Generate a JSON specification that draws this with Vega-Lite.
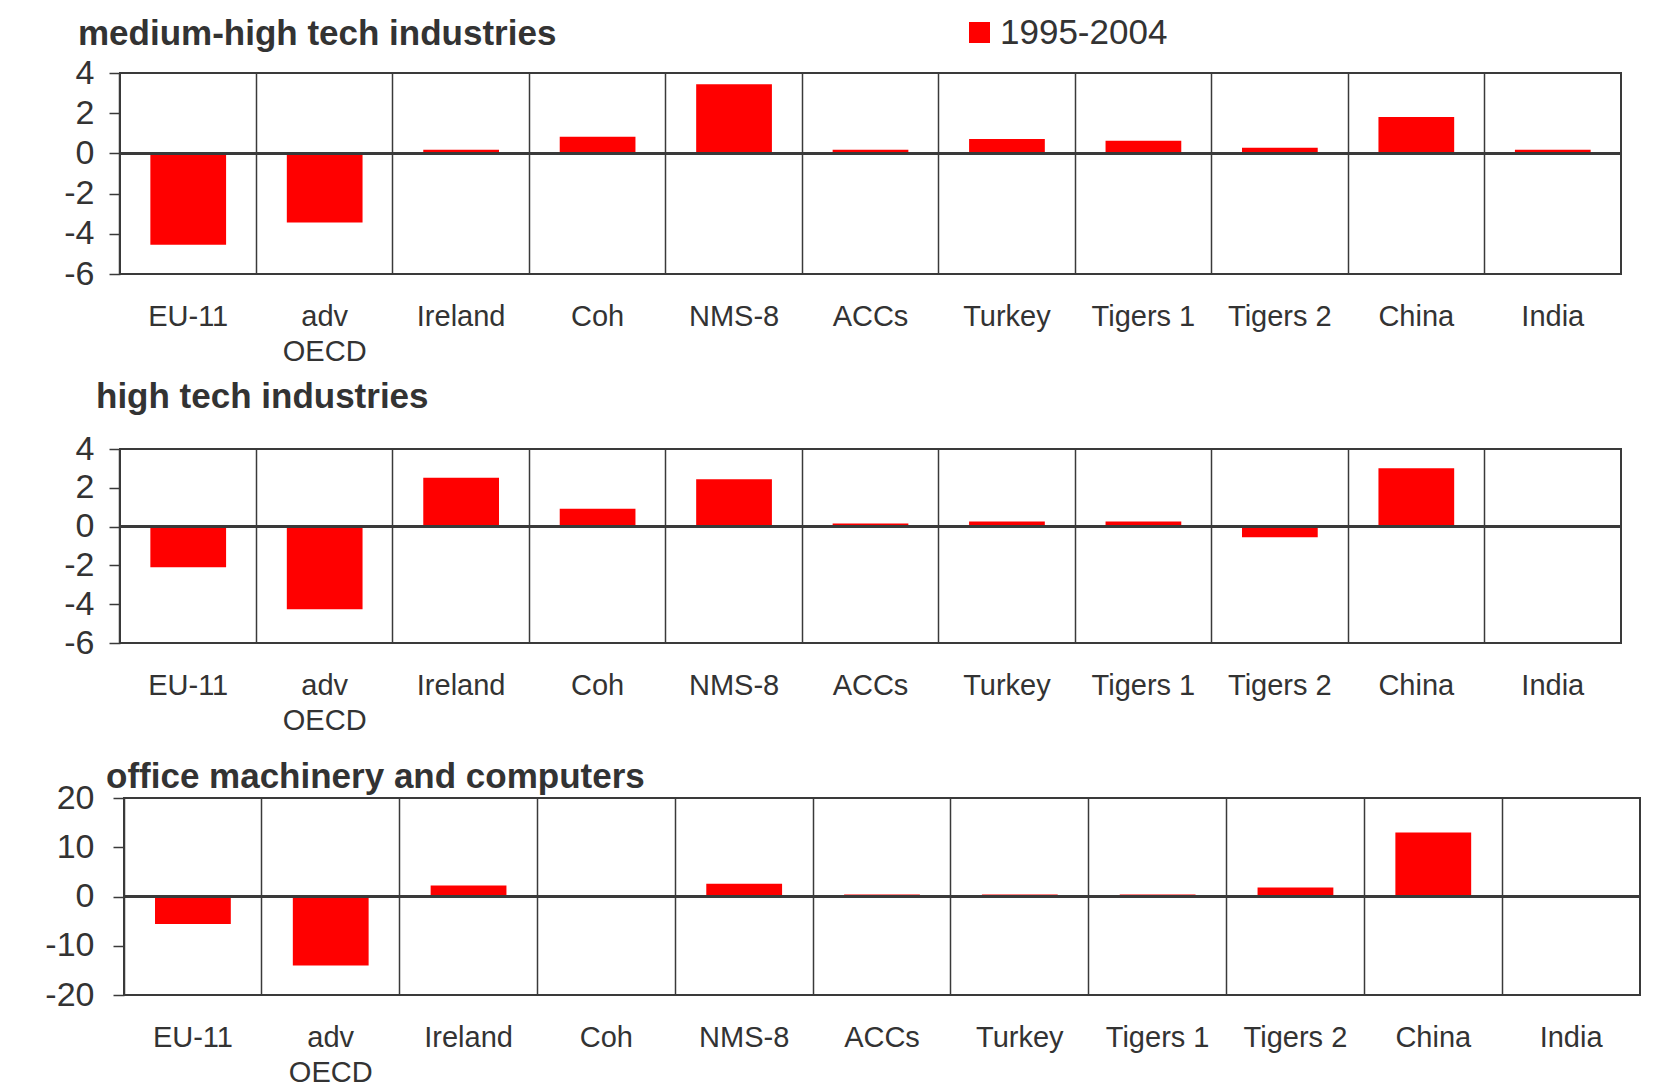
{
  "$schema": "https://vega.github.io/schema/vega-lite/v6.json",
  "padding": {"left": 43, "top": 15, "right": 10, "bottom": 5},
  "background": "white",
  "config": {
    "font": "Liberation Sans",
    "view": {"stroke": "#3a3a3a", "strokeWidth": 2},
    "axisX": {
      "title": null, "labelAngle": 0, "labelFontSize": 29, "labelColor": "#333333",
      "labelPadding": 28, "labelLineHeight": 35, "ticks": false, "domain": false,
      "grid": true, "gridColor": "#3a3a3a", "gridWidth": 1.5, "gridOpacity": 1, "bandPosition": 0,
      "labelExpr": "datum.label == 'adv OECD' ? ['adv', 'OECD'] : datum.label"
    },
    "axisY": {
      "title": null, "labelFontSize": 34, "labelColor": "#333333", "labelPadding": 15,
      "labelOverlap": false, "labelExpr": "toString(datum.value)",
      "ticks": true, "tickSize": 11, "tickColor": "#3a3a3a", "tickWidth": 1.5,
      "domain": false, "grid": false
    },
    "title": {"anchor": "start", "frame": "group", "fontSize": 35, "fontWeight": "bold", "color": "#333333", "baseline": "alphabetic"}
  },
  "data": {"values": [
    {"panel": 1, "cat": "EU-11", "v": -4.55, "period": "1995-2004"},
    {"panel": 1, "cat": "adv OECD", "v": -3.44, "period": "1995-2004"},
    {"panel": 1, "cat": "Ireland", "v": 0.18, "period": "1995-2004"},
    {"panel": 1, "cat": "Coh", "v": 0.83, "period": "1995-2004"},
    {"panel": 1, "cat": "NMS-8", "v": 3.44, "period": "1995-2004"},
    {"panel": 1, "cat": "ACCs", "v": 0.18, "period": "1995-2004"},
    {"panel": 1, "cat": "Turkey", "v": 0.72, "period": "1995-2004"},
    {"panel": 1, "cat": "Tigers 1", "v": 0.63, "period": "1995-2004"},
    {"panel": 1, "cat": "Tigers 2", "v": 0.28, "period": "1995-2004"},
    {"panel": 1, "cat": "China", "v": 1.81, "period": "1995-2004"},
    {"panel": 1, "cat": "India", "v": 0.18, "period": "1995-2004"},
    {"panel": 2, "cat": "EU-11", "v": -2.1, "period": "1995-2004"},
    {"panel": 2, "cat": "adv OECD", "v": -4.26, "period": "1995-2004"},
    {"panel": 2, "cat": "Ireland", "v": 2.52, "period": "1995-2004"},
    {"panel": 2, "cat": "Coh", "v": 0.92, "period": "1995-2004"},
    {"panel": 2, "cat": "NMS-8", "v": 2.44, "period": "1995-2004"},
    {"panel": 2, "cat": "ACCs", "v": 0.16, "period": "1995-2004"},
    {"panel": 2, "cat": "Turkey", "v": 0.26, "period": "1995-2004"},
    {"panel": 2, "cat": "Tigers 1", "v": 0.26, "period": "1995-2004"},
    {"panel": 2, "cat": "Tigers 2", "v": -0.55, "period": "1995-2004"},
    {"panel": 2, "cat": "China", "v": 3.01, "period": "1995-2004"},
    {"panel": 2, "cat": "India", "v": 0, "period": "1995-2004"},
    {"panel": 3, "cat": "EU-11", "v": -5.6, "period": "1995-2004"},
    {"panel": 3, "cat": "adv OECD", "v": -14.0, "period": "1995-2004"},
    {"panel": 3, "cat": "Ireland", "v": 2.24, "period": "1995-2004"},
    {"panel": 3, "cat": "Coh", "v": 0, "period": "1995-2004"},
    {"panel": 3, "cat": "NMS-8", "v": 2.6, "period": "1995-2004"},
    {"panel": 3, "cat": "ACCs", "v": 0.4, "period": "1995-2004"},
    {"panel": 3, "cat": "Turkey", "v": 0.4, "period": "1995-2004"},
    {"panel": 3, "cat": "Tigers 1", "v": 0.4, "period": "1995-2004"},
    {"panel": 3, "cat": "Tigers 2", "v": 1.82, "period": "1995-2004"},
    {"panel": 3, "cat": "China", "v": 13.0, "period": "1995-2004"},
    {"panel": 3, "cat": "India", "v": 0, "period": "1995-2004"}
  ]},
  "spacing": 175,
  "bounds": "flush",
  "vconcat": [
    {
      "width": 1501, "height": 201,
      "title": {"text": "medium-high tech industries", "dx": -42, "offset": 4.5},
      "transform": [{"filter": "datum.panel == 1"}],
      "layer": [
        {"mark": {"type": "bar", "width": {"band": 0.555}},
         "encoding": {
           "x": {"field": "cat", "type": "nominal", "sort": null, "scale": {"paddingInner": 0, "paddingOuter": 0}},
           "y": {"field": "v", "type": "quantitative", "scale": {"domain": [-6, 4], "nice": false}, "axis": {"values": [-6, -4, -2, 0, 2, 4], "tickCount": 20, "labelOverlap": false}},
           "color": {"field": "period", "type": "nominal", "scale": {"range": ["#ff0000"]},
             "legend": {"title": null, "orient": "none", "legendX": 842, "legendY": -58, "symbolType": "square", "symbolSize": 440, "symbolStrokeWidth": 0, "labelFontSize": 35, "labelColor": "#333333", "labelOffset": 3, "labelLimit": 400}}
         }},
        {"mark": {"type": "rule", "color": "#3a3a3a", "strokeWidth": 2}, "encoding": {"y": {"datum": 0}}}
      ]
    },
    {
      "spacing": 155,
      "bounds": "flush",
      "vconcat": [
        {
          "width": 1501, "height": 194,
          "title": {"text": "high tech industries", "dx": -24, "offset": 17.5},
          "transform": [{"filter": "datum.panel == 2"}],
          "layer": [
            {"mark": {"type": "bar", "width": {"band": 0.555}},
             "encoding": {
               "x": {"field": "cat", "type": "nominal", "sort": null, "scale": {"paddingInner": 0, "paddingOuter": 0}},
               "y": {"field": "v", "type": "quantitative", "scale": {"domain": [-6, 4], "nice": false}, "axis": {"values": [-6, -4, -2, 0, 2, 4], "tickCount": 20, "labelOverlap": false}},
               "color": {"field": "period", "type": "nominal"}
             }},
            {"mark": {"type": "rule", "color": "#3a3a3a", "strokeWidth": 2}, "encoding": {"y": {"datum": 0}}}
          ]
        },
        {
          "spacing": 3,
          "bounds": "flush",
          "hconcat": [
            {
              "width": 1, "height": 197,
              "view": {"stroke": null},
              "data": {"values": []},
              "mark": "point",
              "encoding": {}
            },
            {
              "width": 1516, "height": 197,
              "title": {"text": "office machinery and computers", "dx": -18, "offset": -13.5},
              "transform": [{"filter": "datum.panel == 3"}],
              "layer": [
                {"mark": {"type": "bar", "width": {"band": 0.55}},
                 "encoding": {
                   "x": {"field": "cat", "type": "nominal", "sort": null, "scale": {"paddingInner": 0, "paddingOuter": 0}},
                   "y": {"field": "v", "type": "quantitative", "scale": {"domain": [-20, 20], "nice": false}, "axis": {"values": [-20, -10, 0, 10, 20], "tickCount": 20, "labelOverlap": false, "labelPadding": 19}},
                   "color": {"field": "period", "type": "nominal"}
                 }},
                {"mark": {"type": "rule", "color": "#3a3a3a", "strokeWidth": 2}, "encoding": {"y": {"datum": 0}}}
              ]
            }
          ]
        }
      ]
    }
  ]
}
